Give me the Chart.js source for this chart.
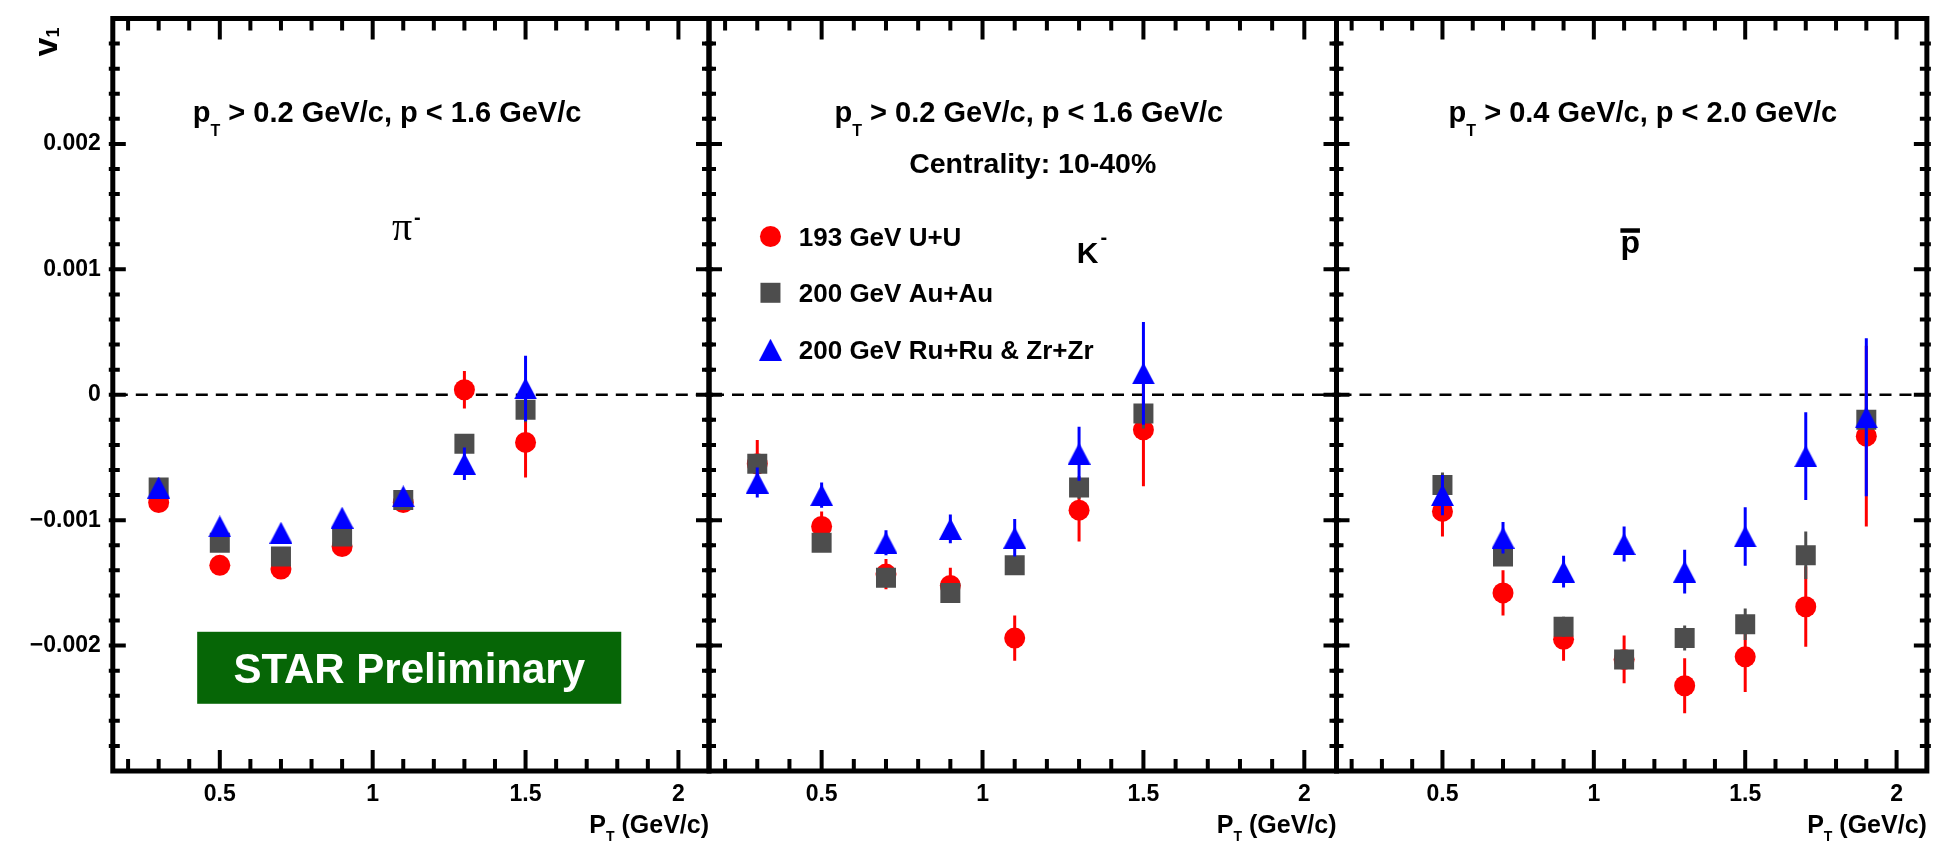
<!DOCTYPE html>
<html>
<head>
<meta charset="utf-8">
<title>Directed flow v1 of anti-particles vs pT</title>
<script src="https://cdn.jsdelivr.net/npm/chart.js@4.4.1/dist/chart.umd.min.js"></script>
<style>
  html, body { margin: 0; padding: 0; background: #ffffff; }
  #wrap { position: relative; width: 1941px; height: 847px; overflow: hidden; background: #ffffff; }
  #wrap canvas { position: absolute; left: 0; top: 0; }
</style>
</head>
<body>
<div id="wrap">
  <canvas id="cPi" width="1941" height="847"></canvas>
  <canvas id="cK" width="1941" height="847"></canvas>
  <canvas id="cPbar" width="1941" height="847"></canvas>
</div>
<script>
// ---- transverse-momentum bin centres (GeV/c) ----
const PT_LIGHT = [0.3, 0.5, 0.7, 0.9, 1.1, 1.3, 1.5];
const PT_PBAR  = [0.5, 0.7, 0.9, 1.1, 1.3, 1.5, 1.7, 1.9];

// ---- collision systems ----
const SYSTEMS = ['193 GeV U+U', '200 GeV Au+Au', '200 GeV Ru+Ru & Zr+Zr'];

// ---- pi- : v1 and statistical errors ----
const PI_UU       = [-0.00086, -0.00136, -0.00139, -0.00121, -0.00086, 0.00004, -0.00038];
const PI_UU_ERR   = [0.00004, 0.00005, 0.00005, 0.00005, 0.00004, 0.00015, 0.00028];
const PI_AUAU     = [-0.00074, -0.00118, -0.00129, -0.00113, -0.00084, -0.00039, -0.00012];
const PI_AUAU_ERR = [0.00003, 0.00004, 0.00004, 0.00004, 0.00004, 0.00006, 0.0001];
const PI_ISO      = [-0.00074, -0.00105, -0.00110, -0.00098, -0.00081, -0.00055, 0.00005];
const PI_ISO_ERR  = [0.00003, 0.00004, 0.00004, 0.00004, 0.00005, 0.00013, 0.00026];

// ---- K- ----
const K_UU       = [-0.00055, -0.00105, -0.00143, -0.00152, -0.00194, -0.00092, -0.00028];
const K_UU_ERR   = [0.00019, 0.00012, 0.00012, 0.00014, 0.00018, 0.00025, 0.00045];
const K_AUAU     = [-0.00055, -0.00118, -0.00146, -0.00158, -0.00136, -0.00074, -0.00015];
const K_AUAU_ERR = [0.00006, 0.00005, 0.00005, 0.00006, 0.00007, 0.00009, 0.00012];
const K_ISO      = [-0.00070, -0.00080, -0.00118, -0.00107, -0.00114, -0.00047, 0.00017];
const K_ISO_ERR  = [0.00012, 0.0001, 0.0001, 0.000115, 0.00015, 0.000215, 0.00041];

// ---- anti-proton ----
const PB_UU       = [-0.00093, -0.00158, -0.00195, -0.00211, -0.00232, -0.00209, -0.00169, -0.00033];
const PB_UU_ERR   = [0.0002, 0.00018, 0.00017, 0.00019, 0.00022, 0.00028, 0.00032, 0.00072];
const PB_AUAU     = [-0.00072, -0.00129, -0.00185, -0.00211, -0.00194, -0.00183, -0.00128, -0.0002];
const PB_AUAU_ERR = [0.0001, 0.00007, 0.00008, 0.00007, 0.0001, 0.000125, 0.00019, 0.0002];
const PB_ISO      = [-0.0008, -0.00114, -0.00141, -0.00119, -0.00141, -0.00113, -0.00049, -0.00018];
const PB_ISO_ERR  = [0.00016, 0.000126, 0.000126, 0.00014, 0.000174, 0.000233, 0.00035, 0.00063];

// ---- axis ticks ----
const X_TICKS = [0.5, 1, 1.5, 2];
const X_TICK_LABELS = ['0.5', '1', '1.5', '2'];
const Y_TICKS = [-0.002, -0.001, 0, 0.001, 0.002];
const Y_TICK_LABELS = ['\u22120.002', '\u22120.001', '0', '0.001', '0.002'];

// ---- page geometry & style ----
const W = 1941, H = 847;
const TOP = 18.5, BOTTOM = 771, XAXIS_H = 60;
const X_MIN = 0.15, X_MAX = 2.1, Y_MIN = -0.003, Y_MAX = 0.003;
const RED = '#ff0000', GREY = '#4d4d4d', BLUE = '#0000ff', BADGE = '#066606';
const SANS = "'Liberation Sans', Arial, Helvetica, sans-serif";
const SERIF = "'Liberation Serif', 'Times New Roman', serif";
const bold = s => `bold ${s}px ${SANS}`;

function triangleMarker(w, h, color) {
  const c = document.createElement('canvas');
  c.width = w; c.height = h;
  const g = c.getContext('2d');
  g.fillStyle = color;
  g.beginPath();
  g.moveTo(w / 2, 0); g.lineTo(w, h); g.lineTo(0, h);
  g.closePath(); g.fill();
  return c;
}
const TRI = triangleMarker(23, 22, BLUE);

const MARKERS = [
  { color: RED,  style: 'circle', radius: 10.5 },
  { color: GREY, style: 'rect',   radius: 14.14 },
  { color: BLUE, style: TRI,      radius: 11.5 }
];

function drawMarker(ctx, m, x, y) {
  ctx.fillStyle = m.color;
  if (m.style === 'circle') {
    ctx.beginPath(); ctx.arc(x, y, m.radius, 0, Math.PI * 2); ctx.fill();
  } else if (m.style === 'rect') {
    const h = m.radius * Math.SQRT1_2;
    ctx.fillRect(x - h, y - h, 2 * h, 2 * h);
  } else {
    ctx.drawImage(m.style, x - m.style.width / 2, y - m.style.height / 2);
  }
}

// sequence of text runs (sub/superscripts) on one baseline
function drawRuns(ctx, runs, px, py, align) {
  const widths = runs.map(r => { ctx.font = r.font; return ctx.measureText(r.t).width + (r.dx || 0); });
  const total = widths.reduce((a, b) => a + b, 0);
  let cx = align === 'center' ? px - total / 2 : align === 'right' ? px - total : px;
  const start = cx;
  ctx.textAlign = 'left';
  ctx.textBaseline = 'alphabetic';
  runs.forEach((r, i) => {
    ctx.font = r.font;
    ctx.fillText(r.t, cx + (r.dx || 0), py + (r.dy || 0));
    cx += widths[i];
  });
  return { start, total };
}

function cutRuns(ptMin, pMax) {
  return [
    { t: 'p', font: bold(29) },
    { t: 'T', font: bold(16), dy: 14 },
    { t: ` > ${ptMin} GeV/c, p < ${pMax} GeV/c`, font: bold(29) }
  ];
}

const errorBars = {
  id: 'errorBars',
  beforeDatasetDraw(chart, args) {
    const ds = chart.data.datasets[args.index];
    if (!ds.errors) return;
    const { ctx, chartArea: a, scales: { x, y } } = chart;
    ctx.save();
    ctx.beginPath(); ctx.rect(a.left, a.top, a.width, a.height); ctx.clip();
    ctx.strokeStyle = ds.errColor; ctx.lineWidth = 3;
    ctx.beginPath();
    ds.data.forEach((pt, i) => {
      const e = ds.errors[i];
      const px = x.getPixelForValue(pt.x);
      ctx.moveTo(px, y.getPixelForValue(pt.y + e));
      ctx.lineTo(px, y.getPixelForValue(pt.y - e));
    });
    ctx.stroke();
    ctx.restore();
  }
};

function makeDecor(p) {
  return {
    id: 'decor',
    beforeDatasetsDraw(chart) {
      const { ctx, chartArea: a, scales: { x, y } } = chart;
      ctx.save();
      const y0 = y.getPixelForValue(0);
      ctx.strokeStyle = '#000'; ctx.lineWidth = 2.5; ctx.setLineDash([12, 8]);
      ctx.beginPath(); ctx.moveTo(a.left + 3, y0); ctx.lineTo(a.right - 3, y0); ctx.stroke();
      ctx.setLineDash([]);
      if (p.badge) {
        const b = p.badge;
        const x0 = x.getPixelForValue(b.x0), x1 = x.getPixelForValue(b.x1);
        const yt = y.getPixelForValue(b.y0), yb = y.getPixelForValue(b.y1);
        ctx.fillStyle = BADGE;
        ctx.fillRect(x0, yt, x1 - x0, yb - yt);
        ctx.fillStyle = '#ffffff';
        drawRuns(ctx, [{ t: b.text, font: bold(42) }], (x0 + x1) / 2, (yt + yb) / 2 + 15, 'center');
      }
      ctx.restore();
    },
    afterDatasetsDraw(chart) {
      if (!p.legend) return;
      const { ctx, scales: { x, y } } = chart;
      const L = p.legend;
      ctx.save();
      chart.data.datasets.forEach((ds, i) => {
        const py = y.getPixelForValue(L.ys[i]);
        drawMarker(ctx, MARKERS[i], x.getPixelForValue(L.x), py);
        ctx.fillStyle = '#000';
        drawRuns(ctx, [{ t: ds.label, font: bold(26) }], x.getPixelForValue(L.textX), py + 9.3, 'left');
      });
      ctx.restore();
    },
    afterDraw(chart) {
      const { ctx, chartArea: a, scales: { x, y } } = chart;
      ctx.save();
      // tick marks on all four sides, pointing inwards
      ctx.strokeStyle = '#000'; ctx.lineWidth = 4;
      ctx.beginPath();
      for (let k = 2; k <= 20; k++) {
        const px = x.getPixelForValue(k / 10);
        const len = k % 5 === 0 ? 21 : 12;
        ctx.moveTo(px, a.bottom); ctx.lineTo(px, a.bottom - len);
        ctx.moveTo(px, a.top); ctx.lineTo(px, a.top + len);
      }
      for (let k = -14; k <= 14; k++) {
        const py = y.getPixelForValue(k * 0.0002);
        const len = k % 5 === 0 ? 13 : 7;
        ctx.moveTo(a.left - 4, py); ctx.lineTo(a.left + len, py);
        ctx.moveTo(a.right + 4, py); ctx.lineTo(a.right - len, py);
      }
      ctx.stroke();
      ctx.lineWidth = 5;
      ctx.strokeRect(a.left, a.top, a.width, a.height);

      // panel texts
      ctx.fillStyle = '#000';
      p.labels.forEach(l => {
        const r = drawRuns(ctx, l.runs, x.getPixelForValue(l.x), y.getPixelForValue(l.y), 'center');
        if (l.overbar) ctx.fillRect(r.start, y.getPixelForValue(l.y) - 24.5, r.total, 4.5);
      });

      // x-axis title
      drawRuns(ctx, [
        { t: 'P', font: bold(25) },
        { t: 'T', font: bold(14), dy: 8 },
        { t: ' (GeV/c)', font: bold(25) }
      ], a.right, 833, 'right');

      // y-axis title
      if (p.first) {
        ctx.translate(a.left - 56, a.top + 38);
        ctx.rotate(-Math.PI / 2);
        drawRuns(ctx, [
          { t: 'v', font: bold(34) },
          { t: '1', font: bold(18), dy: 2 }
        ], 0, 0, 'left');
      }
      ctx.restore();
    }
  };
}

const toPoints = (xs, ys) => xs.map((v, i) => ({ x: v, y: ys[i] }));

function buildPanel(p) {
  const series = [
    [p.uu, p.uuErr], [p.au, p.auErr], [p.iso, p.isoErr]
  ];
  const datasets = series.map(([vals, errs], i) => ({
    label: SYSTEMS[i],
    data: toPoints(p.xs, vals),
    errors: errs,
    errColor: MARKERS[i].color,
    order: 3 - i,
    pointStyle: MARKERS[i].style,
    pointRadius: MARKERS[i].radius,
    pointBackgroundColor: MARKERS[i].color,
    backgroundColor: MARKERS[i].color,
    pointBorderWidth: 0,
    borderWidth: 0
  }));

  const tickFont = { family: SANS, size: 23, weight: 'bold' };
  return new Chart(document.getElementById(p.id), {
    type: 'scatter',
    data: { datasets },
    options: {
      responsive: false,
      animation: false,
      devicePixelRatio: 1,
      events: [],
      layout: { padding: { left: p.first ? 0 : p.left, right: W - p.right, top: TOP, bottom: H - BOTTOM - XAXIS_H } },
      plugins: { legend: { display: false }, tooltip: { enabled: false } },
      scales: {
        x: {
          type: 'linear', min: X_MIN, max: X_MAX,
          afterBuildTicks: s => { s.ticks = X_TICKS.map(v => ({ value: v })); },
          afterFit: s => { s.height = XAXIS_H; s.paddingLeft = 0; s.paddingRight = 0; },
          ticks: {
            callback: (v, i) => X_TICK_LABELS[i],
            font: tickFont, color: '#000', padding: 10,
            maxRotation: 0, minRotation: 0, autoSkip: false
          },
          grid: { display: false, drawTicks: false },
          border: { display: false }
        },
        y: {
          type: 'linear', min: Y_MIN, max: Y_MAX,
          afterBuildTicks: s => { s.ticks = Y_TICKS.map(v => ({ value: v })); },
          afterFit: s => { s.width = p.first ? p.left : 0; s.paddingTop = 0; s.paddingBottom = 0; },
          ticks: {
            display: !!p.first,
            callback: (v, i) => Y_TICK_LABELS[i],
            font: tickFont, color: '#000', padding: 12, autoSkip: false
          },
          grid: { display: false, drawTicks: false },
          border: { display: false }
        }
      }
    },
    plugins: [errorBars, makeDecor(p)]
  });
}

const PANELS = [
  {
    id: 'cPi', left: 112.8, right: 709, first: true,
    xs: PT_LIGHT,
    uu: PI_UU, uuErr: PI_UU_ERR, au: PI_AUAU, auErr: PI_AUAU_ERR, iso: PI_ISO, isoErr: PI_ISO_ERR,
    labels: [
      { x: 1.047, y: 0.002177, runs: cutRuns('0.2', '1.6') },
      { x: 1.11, y: 0.001236, runs: [{ t: '\u03c0', font: `40px ${SERIF}` }, { t: '-', font: bold(20), dy: -15.5, dx: 2 }] }
    ],
    badge: { x0: 0.426, x1: 1.813, y0: -0.00189, y1: -0.002464, text: 'STAR Preliminary' }
  },
  {
    id: 'cK', left: 709, right: 1336.5,
    xs: PT_LIGHT,
    uu: K_UU, uuErr: K_UU_ERR, au: K_AUAU, auErr: K_AUAU_ERR, iso: K_ISO, isoErr: K_ISO_ERR,
    labels: [
      { x: 1.144, y: 0.002177, runs: cutRuns('0.2', '1.6') },
      { x: 1.156, y: 0.00177, runs: [{ t: 'Centrality: 10-40%', font: bold(28.5) }] },
      { x: 1.34, y: 0.00105, runs: [{ t: 'K', font: bold(30) }, { t: '-', font: bold(20), dy: -19.5, dx: 2 }] }
    ],
    legend: { x: 0.341, textX: 0.429, ys: [0.001262, 0.000813, 0.000359] }
  },
  {
    id: 'cPbar', left: 1336.5, right: 1933,
    xs: PT_PBAR,
    uu: PB_UU, uuErr: PB_UU_ERR, au: PB_AUAU, auErr: PB_AUAU_ERR, iso: PB_ISO, isoErr: PB_ISO_ERR,
    labels: [
      { x: 1.162, y: 0.002177, runs: cutRuns('0.4', '2.0') },
      { x: 1.12, y: 0.001132, runs: [{ t: 'p', font: bold(32) }], overbar: true }
    ]
  }
];

PANELS.forEach(buildPanel);
</script>
</body>
</html>
